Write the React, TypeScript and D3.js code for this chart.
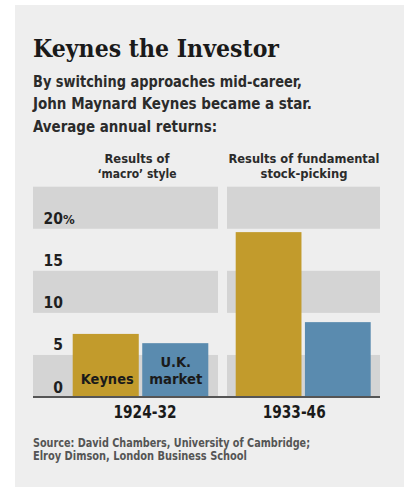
import React from "react";
import * as d3 from "d3";

const periods = ["1924-32", "1933-46"];
const headers = [
  ["Results of", "\u2018macro\u2019 style"],
  ["Results of fundamental", "stock-picking"],
];
const series = ["Keynes", "U.K. market"];
const keynesValues = [7.5, 19.6];
const marketValues = [6.4, 8.9];
const yTicks = [0, 5, 10, 15, 20];
const bandStarts = [0, 10, 20];
const title = "Keynes the Investor";
const subtitle = [
  "By switching approaches mid-career,",
  "John Maynard Keynes became a star.",
  "Average annual returns:",
];
const source = [
  "Source: David Chambers, University of Cambridge;",
  "Elroy Dimson, London Business School",
];

const W = 409;
const H = 489;
const colors = ["#C29B2C", "#5A8BAF"];
const sansBold = "'Liberation Sans Narrow', 'DejaVu Sans Condensed', 'Roboto', sans-serif";

export default function App() {
  const y = d3.scaleLinear().domain([0, 25]).range([397, 186.7]);
  const panels = [
    { x0: 33, x1: 218, g0: 72.7, g1: 208.3, labelDx: 4.5, headerX: 137 },
    { x0: 227, x1: 380, g0: 235.7, g1: 370.7, labelDx: -9, headerX: 304 },
  ];
  const inner = d3.scaleBand().domain(series).paddingInner(0.05).paddingOuter(0);
  const data = periods.map((p, i) => ({ period: p, values: [keynesValues[i], marketValues[i]] }));

  return (
    <svg width={W} height={H} style={{ position: "absolute", left: 0, top: 0 }}>
      <rect x={0} y={0} width={W} height={H} fill="#ffffff" />
      <rect x={15} y={5} width={389} height={482} fill="#EEEEEE" />
      <text x={33} y={57} fontFamily="'DejaVu Serif', serif" fontWeight="bold" fontSize={25}
        fill="#1a1a1a" textLength={246} lengthAdjust="spacingAndGlyphs">{title}</text>
      {subtitle.map((s, i) => (
        <text key={i} x={33} y={87 + i * 22.3} fontFamily={sansBold} fontWeight="bold" fontSize={16}
          fill="#2b2b2b" textLength={[269, 279, 184][i]} lengthAdjust="spacingAndGlyphs">{s}</text>
      ))}
      {panels.map((pn, pi) => {
        const x = inner.copy().range([pn.g0, pn.g1]);
        return (
          <g key={pi}>
            {bandStarts.map((b) => (
              <rect key={b} x={pn.x0} width={pn.x1 - pn.x0} y={y(b + 5)} height={y(b) - y(b + 5)} fill="#D4D4D4" />
            ))}
            {headers[pi].map((h, hi) => (
              <text key={hi} x={pn.headerX} y={163 + hi * 15} textAnchor="middle" fontFamily={sansBold}
                fontWeight="bold" fontSize={12.5} fill="#2b2b2b"
                textLength={[[65, 79], [151, 87]][pi][hi]} lengthAdjust="spacingAndGlyphs">{h}</text>
            ))}
            {data[pi].values.map((v, si) => (
              <rect key={si} x={x(series[si])} width={x.bandwidth()} y={y(v)} height={y(0) - y(v)} fill={colors[si]} />
            ))}
            <text x={(pn.g0 + pn.g1) / 2 + pn.labelDx} y={418} textAnchor="middle" fontFamily={sansBold}
              fontWeight="bold" fontSize={17} fill="#1a1a1a" textLength={63} lengthAdjust="spacingAndGlyphs">
              {data[pi].period}
            </text>
            {pi === 0 && (
              <g fontFamily={sansBold} fontWeight="bold" fontSize={14.5} fill="#1a1a1a" textAnchor="middle">
                <text x={x(series[0])! + x.bandwidth() / 2 + 1.5} y={384} textLength={53} lengthAdjust="spacingAndGlyphs">Keynes</text>
                <text x={x(series[1])! + x.bandwidth() / 2 + 0.5} y={366.7}>U.K.</text>
                <text x={x(series[1])! + x.bandwidth() / 2 + 0.5} y={384} textLength={53} lengthAdjust="spacingAndGlyphs">market</text>
              </g>
            )}
          </g>
        );
      })}
      {yTicks.map((t) => (
        <g key={t} fontFamily={sansBold} fontWeight="bold" fontSize={15.5} fill="#1f1f1f">
          <text x={63} y={y(t) - 4.5} textAnchor="end">{t}</text>
          {t === 20 && <text x={63} y={y(t) - 4.5} fontSize={13}>%</text>}
        </g>
      ))}
      <line x1={33} x2={380} y1={y(0)} y2={y(0)} stroke="#555" strokeWidth={2} />
      {source.map((s, i) => (
        <text key={i} x={33} y={446.7 + i * 13.5} fontFamily={sansBold} fontWeight="bold" fontSize={11.5}
          fill="#555" textLength={[277, 214][i]} lengthAdjust="spacingAndGlyphs">{s}</text>
      ))}
    </svg>
  );
}
